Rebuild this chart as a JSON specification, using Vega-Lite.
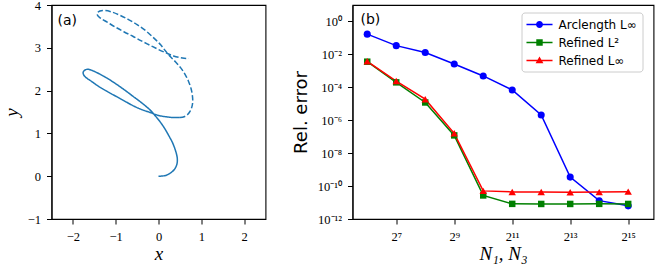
{
  "$schema": "https://vega.github.io/schema/vega-lite/v6.json",
  "padding": {"left": 1.5, "top": -2, "right": 5, "bottom": 0},
  "background": "white",
  "spacing": 25,
  "config": {
    "view": {"stroke": "black", "strokeWidth": 1.1},
    "axis": {
      "labelFont": "Liberation Serif", "labelFontSize": 12.5, "labelColor": "black",
      "tickColor": "black", "tickSize": 5, "tickWidth": 1, "domainColor": "black", "domainWidth": 1.1,
      "grid": false, "labelPadding": 6, "labelOverlap": false,
      "titleFont": "Liberation Serif", "titleFontSize": 19, "titleFontWeight": "normal",
      "titleFontStyle": "italic", "titleColor": "black"
    }
  },
  "datasets": {
    "curve": [
      {"seg": "solid", "i": 1, "x": 0.00, "y": 0.00},
      {"seg": "solid", "i": 2, "x": 0.10, "y": 0.005},
      {"seg": "solid", "i": 3, "x": 0.20, "y": 0.03},
      {"seg": "solid", "i": 4, "x": 0.30, "y": 0.09},
      {"seg": "solid", "i": 5, "x": 0.38, "y": 0.17},
      {"seg": "solid", "i": 6, "x": 0.43, "y": 0.28},
      {"seg": "solid", "i": 7, "x": 0.44, "y": 0.40},
      {"seg": "solid", "i": 8, "x": 0.42, "y": 0.52},
      {"seg": "solid", "i": 9, "x": 0.38, "y": 0.65},
      {"seg": "solid", "i": 10, "x": 0.32, "y": 0.80},
      {"seg": "solid", "i": 11, "x": 0.25, "y": 0.93},
      {"seg": "solid", "i": 12, "x": 0.16, "y": 1.09},
      {"seg": "solid", "i": 13, "x": 0.06, "y": 1.24},
      {"seg": "solid", "i": 14, "x": -0.05, "y": 1.38},
      {"seg": "solid", "i": 15, "x": -0.20, "y": 1.55},
      {"seg": "solid", "i": 16, "x": -0.40, "y": 1.72},
      {"seg": "solid", "i": 17, "x": -0.60, "y": 1.87},
      {"seg": "solid", "i": 18, "x": -0.80, "y": 2.02},
      {"seg": "solid", "i": 19, "x": -1.00, "y": 2.16},
      {"seg": "solid", "i": 20, "x": -1.20, "y": 2.29},
      {"seg": "solid", "i": 21, "x": -1.40, "y": 2.40},
      {"seg": "solid", "i": 22, "x": -1.55, "y": 2.47},
      {"seg": "solid", "i": 23, "x": -1.65, "y": 2.50},
      {"seg": "solid", "i": 24, "x": -1.72, "y": 2.48},
      {"seg": "solid", "i": 25, "x": -1.76, "y": 2.43},
      {"seg": "solid", "i": 26, "x": -1.75, "y": 2.37},
      {"seg": "solid", "i": 27, "x": -1.70, "y": 2.31},
      {"seg": "solid", "i": 28, "x": -1.60, "y": 2.24},
      {"seg": "solid", "i": 29, "x": -1.40, "y": 2.10},
      {"seg": "solid", "i": 30, "x": -1.20, "y": 1.98},
      {"seg": "solid", "i": 31, "x": -1.00, "y": 1.87},
      {"seg": "solid", "i": 32, "x": -0.80, "y": 1.76},
      {"seg": "solid", "i": 33, "x": -0.60, "y": 1.65},
      {"seg": "solid", "i": 34, "x": -0.40, "y": 1.56},
      {"seg": "solid", "i": 35, "x": -0.20, "y": 1.49},
      {"seg": "solid", "i": 36, "x": 0.00, "y": 1.42},
      {"seg": "solid", "i": 37, "x": 0.20, "y": 1.385},
      {"seg": "solid", "i": 38, "x": 0.35, "y": 1.37},
      {"seg": "solid", "i": 39, "x": 0.50, "y": 1.37},
      {"seg": "dashed", "i": 1, "x": 0.50, "y": 1.37},
      {"seg": "dashed", "i": 2, "x": 0.60, "y": 1.39},
      {"seg": "dashed", "i": 3, "x": 0.68, "y": 1.44},
      {"seg": "dashed", "i": 4, "x": 0.74, "y": 1.52},
      {"seg": "dashed", "i": 5, "x": 0.78, "y": 1.62},
      {"seg": "dashed", "i": 6, "x": 0.80, "y": 1.75},
      {"seg": "dashed", "i": 7, "x": 0.79, "y": 1.90},
      {"seg": "dashed", "i": 8, "x": 0.76, "y": 2.05},
      {"seg": "dashed", "i": 9, "x": 0.70, "y": 2.22},
      {"seg": "dashed", "i": 10, "x": 0.62, "y": 2.38},
      {"seg": "dashed", "i": 11, "x": 0.52, "y": 2.53},
      {"seg": "dashed", "i": 12, "x": 0.40, "y": 2.67},
      {"seg": "dashed", "i": 13, "x": 0.28, "y": 2.79},
      {"seg": "dashed", "i": 14, "x": 0.16, "y": 2.93},
      {"seg": "dashed", "i": 15, "x": 0.05, "y": 3.07},
      {"seg": "dashed", "i": 16, "x": -0.10, "y": 3.22},
      {"seg": "dashed", "i": 17, "x": -0.30, "y": 3.40},
      {"seg": "dashed", "i": 18, "x": -0.50, "y": 3.54},
      {"seg": "dashed", "i": 19, "x": -0.70, "y": 3.66},
      {"seg": "dashed", "i": 20, "x": -0.90, "y": 3.76},
      {"seg": "dashed", "i": 21, "x": -1.10, "y": 3.84},
      {"seg": "dashed", "i": 22, "x": -1.25, "y": 3.87},
      {"seg": "dashed", "i": 23, "x": -1.37, "y": 3.86},
      {"seg": "dashed", "i": 24, "x": -1.43, "y": 3.81},
      {"seg": "dashed", "i": 25, "x": -1.42, "y": 3.75},
      {"seg": "dashed", "i": 26, "x": -1.35, "y": 3.69},
      {"seg": "dashed", "i": 27, "x": -1.20, "y": 3.60},
      {"seg": "dashed", "i": 28, "x": -1.00, "y": 3.48},
      {"seg": "dashed", "i": 29, "x": -0.80, "y": 3.37},
      {"seg": "dashed", "i": 30, "x": -0.60, "y": 3.27},
      {"seg": "dashed", "i": 31, "x": -0.40, "y": 3.16},
      {"seg": "dashed", "i": 32, "x": -0.20, "y": 3.06},
      {"seg": "dashed", "i": 33, "x": 0.00, "y": 2.96},
      {"seg": "dashed", "i": 34, "x": 0.20, "y": 2.87},
      {"seg": "dashed", "i": 35, "x": 0.35, "y": 2.81},
      {"seg": "dashed", "i": 36, "x": 0.50, "y": 2.77},
      {"seg": "dashed", "i": 37, "x": 0.60, "y": 2.755},
      {"seg": "dashed", "i": 38, "x": 0.71, "y": 2.75}
    ],
    "err": [
      {"s": "Arclength L∞", "N": 64, "e": 0.17},
      {"s": "Arclength L∞", "N": 128, "e": 0.034},
      {"s": "Arclength L∞", "N": 256, "e": 0.013},
      {"s": "Arclength L∞", "N": 512, "e": 0.0026},
      {"s": "Arclength L∞", "N": 1024, "e": 0.00049},
      {"s": "Arclength L∞", "N": 2048, "e": 0.000069},
      {"s": "Arclength L∞", "N": 4096, "e": 0.0000021},
      {"s": "Arclength L∞", "N": 8192, "e": 3.5e-10},
      {"s": "Arclength L∞", "N": 16384, "e": 1.3e-11},
      {"s": "Arclength L∞", "N": 32768, "e": 6.3e-12},
      {"s": "Refined L²", "N": 64, "e": 0.0036},
      {"s": "Refined L²", "N": 128, "e": 0.0002},
      {"s": "Refined L²", "N": 256, "e": 0.000012},
      {"s": "Refined L²", "N": 512, "e": 1.2e-7},
      {"s": "Refined L²", "N": 1024, "e": 2.7e-11},
      {"s": "Refined L²", "N": 2048, "e": 8.3e-12},
      {"s": "Refined L²", "N": 4096, "e": 8.2e-12},
      {"s": "Refined L²", "N": 8192, "e": 8.2e-12},
      {"s": "Refined L²", "N": 16384, "e": 8.3e-12},
      {"s": "Refined L²", "N": 32768, "e": 8.2e-12},
      {"s": "Refined L∞", "N": 64, "e": 0.0038},
      {"s": "Refined L∞", "N": 128, "e": 0.00024},
      {"s": "Refined L∞", "N": 256, "e": 0.000019},
      {"s": "Refined L∞", "N": 512, "e": 1.6e-7},
      {"s": "Refined L∞", "N": 1024, "e": 5.1e-11},
      {"s": "Refined L∞", "N": 2048, "e": 4.4e-11},
      {"s": "Refined L∞", "N": 4096, "e": 4.4e-11},
      {"s": "Refined L∞", "N": 8192, "e": 4.2e-11},
      {"s": "Refined L∞", "N": 16384, "e": 4.3e-11},
      {"s": "Refined L∞", "N": 32768, "e": 4.6e-11}
    ]
  },
  "hconcat": [
    {
      "width": 214,
      "height": 214,
      "layer": [
        {
          "data": {"name": "curve"},
          "mark": {"type": "line", "strokeWidth": 1.5, "color": "#1f77b4", "interpolate": "catmull-rom"},
          "encoding": {
            "x": {"field": "x", "type": "quantitative",
                  "scale": {"domain": [-2.5, 2.5], "nice": false, "zero": false},
                  "axis": {"values": [-2, -1, 0, 1, 2], "title": "x", "titlePadding": 2}},
            "y": {"field": "y", "type": "quantitative",
                  "scale": {"domain": [-1, 4], "nice": false, "zero": false},
                  "axis": {"values": [-1, 0, 1, 2, 3, 4], "title": "y", "titlePadding": 6}},
            "order": {"field": "i", "type": "quantitative"},
            "strokeDash": {"field": "seg", "type": "nominal",
                           "scale": {"domain": ["solid", "dashed"], "range": [[1, 0], [5.5, 2.4]]},
                           "legend": null}
          }
        },
        {
          "data": {"values": [{"t": "(a)"}]},
          "mark": {"type": "text", "font": "DejaVu Sans", "fontSize": 14, "align": "left", "baseline": "top", "color": "black"},
          "encoding": {
            "x": {"datum": -2.36, "type": "quantitative"},
            "y": {"datum": 3.8, "type": "quantitative"},
            "text": {"field": "t"}
          }
        }
      ]
    },
    {
      "width": 301,
      "height": 214,
      "layer": [
        {
          "data": {"name": "err"},
          "encoding": {
            "x": {"field": "N", "type": "quantitative",
                  "scale": {"type": "log", "base": 2, "domain": [45, 60000], "nice": false},
                  "axis": {"values": [128, 512, 2048, 8192, 32768], "title": "N₁, N₃", "titlePadding": 2,
                           "labelExpr": "'2' + ['⁷','⁹','¹¹','¹³','¹⁵'][round((log(datum.value)/LN2 - 7)/2)]"}},
            "y": {"field": "e", "type": "quantitative",
                  "scale": {"type": "log", "domain": [1e-12, 10], "nice": false},
                  "axis": {"values": [1e-12, 1e-10, 1e-8, 1e-6, 1e-4, 1e-2, 1], "title": "Rel. error",
                           "titleFont": "DejaVu Sans", "titleFontStyle": "normal", "titleFontSize": 18, "titlePadding": 7,
                           "labelExpr": "'10' + ['⁰','⁻²','⁻⁴','⁻⁶','⁻⁸','⁻¹⁰','⁻¹²'][round(-log(datum.value)/LN10/2)]"}},
            "color": {"field": "s", "type": "nominal",
                      "scale": {"domain": ["Arclength L∞", "Refined L²", "Refined L∞"], "range": ["#0000ff", "#008000", "#ff0000"]},
                      "legend": {
                        "title": null, "orient": "none", "legendX": 470, "legendY": 7.5,
                        "labelFont": "DejaVu Sans", "labelFontSize": 12, "labelColor": "black",
                        "strokeColor": "#cccccc", "fillColor": "rgba(255,255,255,0.85)", "cornerRadius": 3,
                        "padding": 5, "symbolSize": 196, "symbolOffset": 6, "labelOffset": 12, "rowPadding": 5,
                        "encode": {
                          "symbols": {
                            "update": {
                              "shape": [
                                {"test": "datum.value === 'Arclength L∞'", "value": "M-1.86,-0.107H1.86V0.107H-1.86Z M0.5,0A0.5,0.5 0 1,1 -0.5,0A0.5,0.5 0 1,1 0.5,0Z"},
                                {"test": "datum.value === 'Refined L²'", "value": "M-1.86,-0.107H1.86V0.107H-1.86Z M-0.46,-0.46H0.46V0.46H-0.46Z"},
                                {"value": "M-1.86,-0.107H1.86V0.107H-1.86Z M0,-0.58L0.56,0.4H-0.56Z"}
                              ],
                              "fillOpacity": {"value": 1},
                              "strokeWidth": {"value": 0},
                              "opacity": {"value": 1}
                            }
                          }
                        }
                      }}
          },
          "layer": [
            {"mark": {"type": "line", "strokeWidth": 1.5}},
            {"transform": [{"filter": "datum.s === 'Arclength L∞'"}],
             "mark": {"type": "point", "shape": "circle", "filled": true, "opacity": 1, "size": 50}},
            {"transform": [{"filter": "datum.s === 'Refined L²'"}],
             "mark": {"type": "point", "shape": "square", "filled": true, "opacity": 1, "size": 42}},
            {"transform": [{"filter": "datum.s === 'Refined L∞'"}],
             "mark": {"type": "point", "shape": "triangle-up", "filled": true, "opacity": 1, "size": 55}}
          ]
        },
        {
          "data": {"values": [{"t": "(b)"}]},
          "mark": {"type": "text", "font": "DejaVu Sans", "fontSize": 14, "align": "left", "baseline": "top", "color": "black"},
          "encoding": {
            "x": {"datum": 54.5, "type": "quantitative"},
            "y": {"datum": 3.3, "type": "quantitative"},
            "text": {"field": "t"}
          }
        }
      ]
    }
  ]
}
